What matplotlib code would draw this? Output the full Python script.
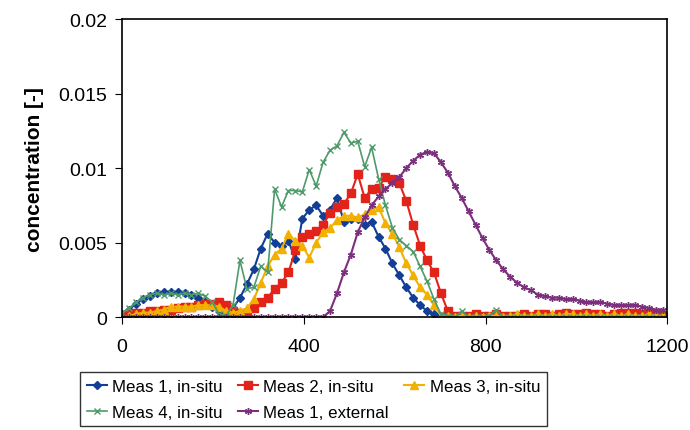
import numpy as np
import matplotlib.pyplot as plt

plt.rcParams['font.family'] = ['Liberation Sans', 'DejaVu Sans']

# sampling times shared by all series
t = np.linspace(0, 1190, 79)

meas1_insitu = [0.0002, 0.0005, 0.0009, 0.0012, 0.0014, 0.0016, 0.0017, 0.0017, 0.0017, 0.0016,
                0.0015, 0.0013, 0.0010, 0.0007, 0.0004, 0.0003, 0.0006, 0.0013, 0.0022, 0.0032,
                0.0046, 0.0056, 0.0050, 0.0048, 0.0051, 0.0039, 0.0066, 0.0072, 0.0075, 0.0068,
                0.0072, 0.0080, 0.0064, 0.0066, 0.0066, 0.0062, 0.0064, 0.0054, 0.0046, 0.0036,
                0.0028, 0.0020, 0.0013, 0.0008, 0.0004, 0.0002, 0.0001, 0.0, 0.0, 0.0,
                0.0, 0.0, 0.0, 0.0, 0.0, 0.0, 0.0, 0.0, 0.0, 0.0,
                0.0, 0.0, 0.0, 0.0, 0.0, 0.0, 0.0, 0.0, 0.0, 0.0,
                0.0, 0.0, 0.0, 0.0, 0.0, 0.0, 0.0, 0.0, 0.0]

meas2_insitu = [0.0001, 0.0002, 0.0003, 0.0003, 0.0004, 0.0004, 0.0005, 0.0005, 0.0006, 0.0007,
                0.0007, 0.0008, 0.0009, 0.0009, 0.0010, 0.0008, 0.0004, 0.0003, 0.0003, 0.0006,
                0.0010, 0.0013, 0.0019, 0.0023, 0.0030, 0.0045, 0.0054, 0.0056, 0.0058, 0.0062,
                0.0070, 0.0074, 0.0076, 0.0083, 0.0096, 0.0080, 0.0086, 0.0087, 0.0094, 0.0093,
                0.0090, 0.0078, 0.0062, 0.0048, 0.0038, 0.0030, 0.0016, 0.0004, 0.0001, 0.0001,
                0.0001, 0.0002, 0.0001, 0.0001, 0.0002, 0.0001, 0.0001, 0.0001, 0.0002, 0.0001,
                0.0002, 0.0002, 0.0001, 0.0002, 0.0003, 0.0002, 0.0002, 0.0003, 0.0002, 0.0002,
                0.0001, 0.0002, 0.0003, 0.0003, 0.0003, 0.0002, 0.0003, 0.0002, 0.0001]

meas3_insitu = [0.0, 0.0001, 0.0002, 0.0003, 0.0003, 0.0004, 0.0005, 0.0007, 0.0007, 0.0007,
                0.0007, 0.0008, 0.0008, 0.0008, 0.0007, 0.0004, 0.0003, 0.0004, 0.0006, 0.0012,
                0.0023, 0.0034, 0.0042, 0.0046, 0.0056, 0.0051, 0.0048, 0.0040, 0.0050, 0.0057,
                0.0060, 0.0065, 0.0068, 0.0068, 0.0067, 0.0069, 0.0072, 0.0074, 0.0063, 0.0056,
                0.0047, 0.0036, 0.0028, 0.0020, 0.0015, 0.0008, 0.0001, 0.0001, 0.0, 0.0001,
                0.0, 0.0001, 0.0, 0.0001, 0.0001, 0.0, 0.0001, 0.0002, 0.0001, 0.0001,
                0.0002, 0.0001, 0.0002, 0.0001, 0.0002, 0.0002, 0.0001, 0.0002, 0.0001, 0.0002,
                0.0001, 0.0002, 0.0001, 0.0002, 0.0001, 0.0001, 0.0002, 0.0001, 0.0001]

meas4_insitu = [0.0003, 0.0006, 0.0010, 0.0013, 0.0015, 0.0016, 0.0015, 0.0016, 0.0015, 0.0016,
                0.0015, 0.0016, 0.0014, 0.0010, 0.0002, 0.0001, 0.0008, 0.0038, 0.0019, 0.0020,
                0.0034, 0.0030, 0.0086, 0.0074, 0.0085, 0.0085, 0.0084, 0.0099, 0.0088, 0.0104,
                0.0112, 0.0115, 0.0124, 0.0117, 0.0118, 0.0101, 0.0114, 0.0093, 0.0075, 0.0060,
                0.0052, 0.0048, 0.0044, 0.0034, 0.0024, 0.0012, 0.0002, 0.0001, 0.0, 0.0004,
                0.0, 0.0, 0.0, 0.0001, 0.0005, 0.0, 0.0, 0.0, 0.0, 0.0,
                0.0, 0.0, 0.0, 0.0, 0.0, 0.0, 0.0, 0.0, 0.0, 0.0,
                0.0, 0.0, 0.0, 0.0, 0.0, 0.0, 0.0, 0.0, 0.0]

meas1_external = [0.0, 0.0, 0.0, 0.0, 0.0, 0.0, 0.0, 0.0, 0.0, 0.0,
                  0.0, 0.0, 0.0, 0.0, 0.0, 0.0, 0.0, 0.0, 0.0, 0.0,
                  0.0, 0.0, 0.0, 0.0, 0.0, 0.0, 0.0, 0.0, 0.0, 0.0,
                  0.0004, 0.0016, 0.0030, 0.0042, 0.0057, 0.0067, 0.0075, 0.0081, 0.0086, 0.0090,
                  0.0094, 0.0100, 0.0105, 0.0109, 0.0111, 0.0110, 0.0104, 0.0097, 0.0088, 0.0080,
                  0.0071, 0.0062, 0.0053, 0.0045, 0.0038, 0.0032, 0.0027, 0.0023, 0.0020, 0.0018,
                  0.0015, 0.0014, 0.0013, 0.0013, 0.0012, 0.0012, 0.0011, 0.0010, 0.0010, 0.0010,
                  0.0009, 0.0008, 0.0008, 0.0008, 0.0008, 0.0007, 0.0006, 0.0005, 0.0005]

fig = plt.figure(figsize=(6.9, 4.31), dpi=100)
ax = fig.add_axes([0.177, 0.262, 0.790, 0.691])

l1, = ax.plot(t, meas1_insitu, '-D', color='#123f95', ms=4.5, lw=1.5, label='Meas 1, in-situ')
l2, = ax.plot(t, meas2_insitu, '-s', color='#e2231a', ms=5.5, lw=1.5, label='Meas 2, in-situ')
l3, = ax.plot(t, meas3_insitu, '-^', color='#f2b100', ms=5.5, lw=1.5, label='Meas 3, in-situ')
l4, = ax.plot(t, meas4_insitu, '-x', color='#4f9a6b', ms=4, lw=1.2, label='Meas 4, in-situ')
l5, = ax.plot(t, meas1_external, '-', marker=(6, 2, 0), color='#7b2f7d', ms=5, lw=1.5,
              label='Meas 1, external')

ax.set_xlim(0, 1200)
ax.set_ylim(0, 0.02)
ax.set_xticks([0, 400, 800, 1200])
ax.set_yticks([0, 0.005, 0.01, 0.015, 0.02])
ax.set_yticklabels(['0', '0.005', '0.01', '0.015', '0.02'])
ax.tick_params(direction='out', length=5, labelsize=14)
ax.tick_params(axis='x', pad=10)
ax.tick_params(axis='y', pad=6)
ax.set_ylabel('concentration [-]', fontsize=15, fontweight='bold', labelpad=10)
for s in ax.spines.values():
    s.set_linewidth(1.2)

# legend fills column by column, so order the handles to read row by row
handles = [l1, l4, l2, l5, l3]
fig.legend(handles, [h.get_label() for h in handles], loc='upper left',
           bbox_to_anchor=(0.116, 0.135), ncol=3, fontsize=12.2,
           frameon=True, fancybox=False, edgecolor='black', handlelength=1.2,
           handletextpad=0.3, columnspacing=0.9, borderaxespad=0, labelspacing=0.65)

plt.savefig('out.png', dpi=100)
